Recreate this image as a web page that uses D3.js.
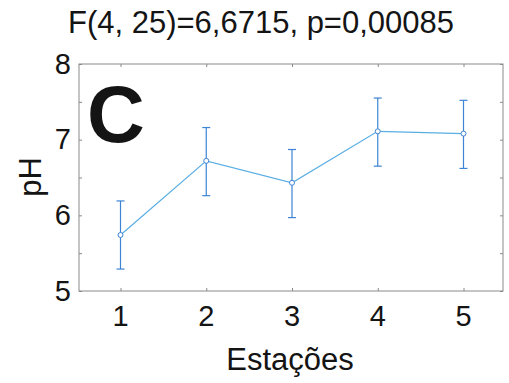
<!DOCTYPE html>
<meta charset="utf-8">

<style>
body{
	background-color: #fff;
	margin: 0px;
}
text{
	font-family: "Liberation Sans", Arial, sans-serif;
	fill: #141414;
}
</style>

<body></body>

<script src="https://cdn.jsdelivr.net/npm/d3@7"></script>

<script>

var estacoes = [1, 2, 3, 4, 5],
		mediaPH  = [5.74, 6.72, 6.43, 7.11, 7.08],
		limSup   = [6.19, 7.16, 6.87, 7.55, 7.52],
		limInf   = [5.29, 6.26, 5.97, 6.65, 6.62],
		yTicks   = [5, 5.5, 6, 6.5, 7, 7.5, 8]

var titulo = 'F(4, 25)=6,6715, p=0,00085'

var width  = 509,
		height = 383,
		box = {left: 79, right: 503, top: 64, bottom: 291}

var svg = d3.select('body')
	.append('svg')
		.attr('width', width)
		.attr('height', height)

var x = d3.scaleLinear().domain([1, 5]).range([120.5, 463.5]),
		y = d3.scaleLinear().domain([5, 8]).range([box.bottom, box.top])

var pts = estacoes.map(function(e, i){
	return {e: e, m: mediaPH[i], hi: limSup[i], lo: limInf[i]}
})

// frame
svg.append('rect')
		.attr('x', box.left)
		.attr('y', box.top)
		.attr('width', box.right - box.left)
		.attr('height', box.bottom - box.top)
		.attr('fill', 'none')
		.attr('stroke', '#8a8a8a')
		.attr('stroke-width', 1)

function fmtY(d){ return d % 1 === 0 ? d : '' }

var axes = [
	{ax: d3.axisBottom(x).tickValues(estacoes).tickFormat(''), t: [0, box.bottom]},
	{ax: d3.axisTop(x).tickValues(estacoes).tickFormat(''), t: [0, box.top]},
	{ax: d3.axisLeft(y).tickValues(yTicks).tickFormat(fmtY), t: [box.left, 0]},
	{ax: d3.axisRight(y).tickValues(yTicks).tickFormat(''), t: [box.right, 0]}
]

axes.forEach(function(a){
	var g = svg.append('g')
			.attr('transform', 'translate(' + a.t + ')')
			.call(a.ax.tickSizeInner(-3).tickSizeOuter(0).tickPadding(8))
	g.select('.domain').remove()
	g.selectAll('line').attr('stroke', '#8a8a8a')
	g.selectAll('text')
			.style('font-family', '"Liberation Sans", Arial, sans-serif')
			.style('font-size', '29px')
			.attr('fill', '#141414')
})

// x tick labels
svg.append('g').selectAll('text')
	.data(estacoes).enter().append('text')
		.attr('x', function(d){ return x(d) })
		.attr('y', 326)
		.attr('text-anchor', 'middle')
		.style('font-size', '29px')
		.text(function(d){ return d })

// title + axis labels
svg.append('text')
		.attr('x', 261)
		.attr('y', 33)
		.attr('text-anchor', 'middle')
		.style('font-size', '31px')
		.text(titulo)

svg.append('text')
		.attr('x', 290)
		.attr('y', 370)
		.attr('text-anchor', 'middle')
		.style('font-size', '31px')
		.text('Estações')

svg.append('text')
		.attr('transform', 'translate(41,177) rotate(-90)')
		.attr('text-anchor', 'middle')
		.style('font-size', '31px')
		.text('pH')

svg.append('text')
		.attr('x', 87)
		.attr('y', 142)
		.style('font-size', '80px')
		.style('font-weight', 'bold')
		.attr('fill', '#000')
		.text('C')

// error bars
var eb = svg.append('g').selectAll('g')
	.data(pts).enter().append('g')
		.attr('stroke', '#3d84d4')
		.attr('stroke-width', 1.2)

eb.append('line')
		.attr('x1', function(d){ return x(d.e) })
		.attr('x2', function(d){ return x(d.e) })
		.attr('y1', function(d){ return y(d.hi) })
		.attr('y2', function(d){ return y(d.lo) })

eb.append('line')
		.attr('x1', function(d){ return x(d.e) - 4 })
		.attr('x2', function(d){ return x(d.e) + 4 })
		.attr('y1', function(d){ return y(d.hi) })
		.attr('y2', function(d){ return y(d.hi) })

eb.append('line')
		.attr('x1', function(d){ return x(d.e) - 4 })
		.attr('x2', function(d){ return x(d.e) + 4 })
		.attr('y1', function(d){ return y(d.lo) })
		.attr('y2', function(d){ return y(d.lo) })

// mean line
svg.append('path')
		.datum(pts)
		.attr('fill', 'none')
		.attr('stroke', '#5aaee3')
		.attr('stroke-width', 1.2)
		.attr('d', d3.line()
			.x(function(d){ return x(d.e) })
			.y(function(d){ return y(d.m) }))

svg.append('g').selectAll('circle')
	.data(pts).enter().append('circle')
		.attr('cx', function(d){ return x(d.e) })
		.attr('cy', function(d){ return y(d.m) })
		.attr('r', 2.5)
		.attr('fill', '#fff')
		.attr('stroke', '#3d84d4')
		.attr('stroke-width', 1)

</script>
